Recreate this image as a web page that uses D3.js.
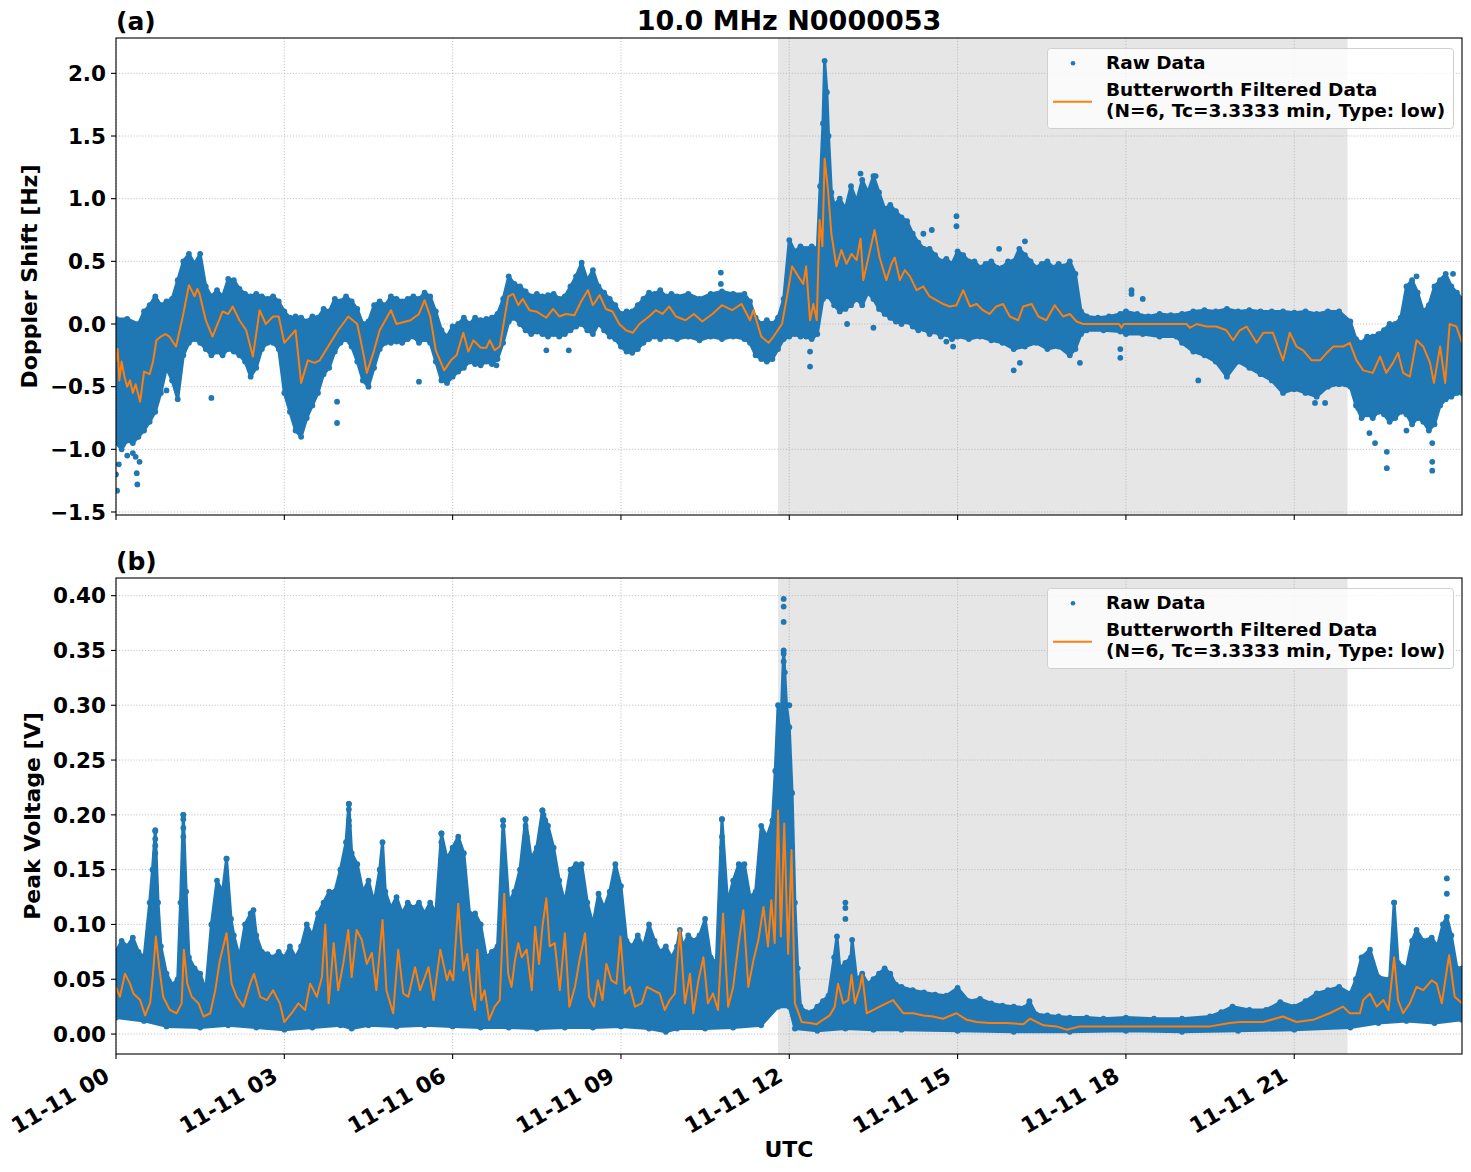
<!DOCTYPE html>
<html><head><meta charset="utf-8">
<script src="https://cdn.jsdelivr.net/npm/d3@7"></script>
<style>
body{margin:0;background:#fff}
text{font-family:"DejaVu Sans",sans-serif;font-weight:bold;fill:#000}
</style>
</head><body>
<svg id="c" width="1471" height="1172"></svg>
<script>
// ---------------- DATA (hours since 11-11 00:00 UTC, value) ----------------
const title = "10.0 MHz N0000053";
const shadeHours = [11.8, 21.95];
const xTickHours = [0, 3, 6, 9, 12, 15, 18, 21];
const dopplerTicks = [-1.5, -1.0, -0.5, 0.0, 0.5, 1.0, 1.5, 2.0];
const voltageTicks = [0.00, 0.05, 0.10, 0.15, 0.20, 0.25, 0.30, 0.35, 0.40];
const legendLabels = ["Raw Data", "Butterworth Filtered Data", "(N=6, Tc=3.3333 min, Type: low)"];

// Doppler raw data: upper / lower envelope of the dense point cloud
const dopplerRawUpper = [[0,0.04],[0.2,0.04],[0.4,0.0],[0.5,0.1],[0.6,0.15],[0.7,0.22],[0.8,0.15],[0.9,0.18],[1.0,0.2],[1.1,0.35],[1.2,0.5],[1.3,0.56],[1.4,0.48],[1.5,0.56],[1.6,0.3],[1.7,0.22],[1.8,0.27],[1.9,0.22],[2.0,0.36],[2.1,0.35],[2.2,0.28],[2.3,0.24],[2.4,0.22],[2.5,0.24],[2.6,0.22],[2.7,0.2],[2.8,0.22],[2.9,0.18],[3.0,0.1],[3.1,0.05],[3.2,0.06],[3.3,0.05],[3.4,0.02],[3.5,0.06],[3.6,0.05],[3.7,0.12],[3.8,0.1],[3.9,0.2],[4.0,0.18],[4.1,0.22],[4.2,0.18],[4.3,0.12],[4.4,0.0],[4.5,0.02],[4.6,0.15],[4.7,0.18],[4.8,0.15],[4.9,0.22],[5.0,0.2],[5.1,0.18],[5.2,0.2],[5.3,0.22],[5.4,0.2],[5.5,0.25],[5.6,0.22],[5.7,0.1],[5.8,-0.05],[5.9,-0.1],[6.0,-0.02],[6.1,0.0],[6.2,0.05],[6.3,0.0],[6.4,0.05],[6.5,0.03],[6.6,0.04],[6.7,0.05],[6.8,0.08],[6.9,0.2],[7.0,0.38],[7.1,0.32],[7.2,0.3],[7.3,0.26],[7.4,0.22],[7.5,0.24],[7.6,0.22],[7.7,0.23],[7.8,0.24],[7.9,0.2],[8.0,0.22],[8.1,0.3],[8.2,0.38],[8.3,0.49],[8.4,0.35],[8.5,0.43],[8.6,0.3],[8.7,0.25],[8.8,0.2],[8.9,0.15],[9.0,0.08],[9.1,0.1],[9.2,0.1],[9.3,0.15],[9.4,0.2],[9.5,0.25],[9.6,0.24],[9.7,0.27],[9.8,0.22],[9.9,0.24],[10.0,0.22],[10.2,0.24],[10.4,0.2],[10.6,0.24],[10.8,0.26],[11.0,0.24],[11.2,0.24],[11.3,0.18],[11.4,0.05],[11.5,0.0],[11.6,0.03],[11.7,0.0],[11.8,0.05],[11.9,0.2],[12.0,0.67],[12.1,0.58],[12.2,0.62],[12.3,0.6],[12.4,0.62],[12.5,0.6],[12.55,1.1],[12.6,1.6],[12.63,2.1],[12.67,1.85],[12.7,1.5],[12.75,1.05],[12.8,0.95],[12.9,1.0],[13.0,0.92],[13.1,1.1],[13.2,0.98],[13.3,1.15],[13.4,1.05],[13.5,1.18],[13.6,1.05],[13.7,0.92],[13.8,0.95],[13.9,0.9],[14.0,0.85],[14.1,0.82],[14.2,0.72],[14.3,0.65],[14.4,0.6],[14.5,0.6],[14.6,0.55],[14.7,0.5],[14.8,0.52],[14.9,0.48],[15.0,0.58],[15.1,0.55],[15.2,0.5],[15.3,0.5],[15.4,0.45],[15.5,0.48],[15.6,0.5],[15.7,0.45],[15.8,0.45],[15.9,0.5],[16.0,0.5],[16.1,0.6],[16.2,0.55],[16.3,0.5],[16.4,0.45],[16.5,0.48],[16.6,0.5],[16.7,0.45],[16.8,0.48],[16.9,0.46],[17.0,0.5],[17.1,0.4],[17.2,0.1],[17.3,0.06],[17.5,0.05],[17.7,0.06],[17.9,0.08],[18.0,0.1],[18.2,0.08],[18.4,0.06],[18.6,0.08],[18.8,0.07],[19.0,0.08],[19.2,0.1],[19.4,0.11],[19.6,0.1],[19.8,0.12],[20.0,0.1],[20.2,0.11],[20.4,0.1],[20.6,0.1],[20.8,0.1],[21.0,0.09],[21.2,0.1],[21.4,0.08],[21.6,0.1],[21.8,0.1],[22.0,0.02],[22.1,-0.12],[22.2,-0.15],[22.3,-0.1],[22.4,-0.1],[22.5,-0.08],[22.6,-0.05],[22.7,0.0],[22.8,0.0],[22.9,0.05],[23.0,0.3],[23.1,0.35],[23.2,0.25],[23.3,0.1],[23.4,0.15],[23.5,0.3],[23.6,0.35],[23.7,0.4],[23.8,0.3],[23.9,0.25],[23.99,0.2]];
const dopplerRawLower = [[0,-0.95],[0.1,-1.0],[0.2,-0.93],[0.3,-0.95],[0.4,-0.9],[0.5,-0.85],[0.6,-0.78],[0.7,-0.7],[0.8,-0.55],[0.9,-0.35],[1.0,-0.45],[1.1,-0.6],[1.2,-0.25],[1.3,-0.15],[1.4,-0.12],[1.5,-0.15],[1.6,-0.2],[1.7,-0.25],[1.8,-0.22],[1.9,-0.25],[2.0,-0.2],[2.1,-0.22],[2.2,-0.25],[2.3,-0.3],[2.4,-0.42],[2.5,-0.35],[2.6,-0.2],[2.7,-0.15],[2.8,-0.15],[2.9,-0.2],[3.0,-0.55],[3.1,-0.7],[3.2,-0.85],[3.3,-0.9],[3.4,-0.75],[3.5,-0.65],[3.6,-0.55],[3.7,-0.4],[3.8,-0.35],[3.9,-0.22],[4.0,-0.15],[4.1,-0.12],[4.2,-0.18],[4.3,-0.3],[4.4,-0.45],[4.5,-0.5],[4.6,-0.35],[4.7,-0.2],[4.8,-0.15],[4.9,-0.15],[5.0,-0.14],[5.1,-0.15],[5.2,-0.12],[5.3,-0.1],[5.4,-0.15],[5.5,-0.12],[5.6,-0.15],[5.7,-0.3],[5.8,-0.45],[5.9,-0.47],[6.0,-0.42],[6.1,-0.38],[6.2,-0.35],[6.3,-0.3],[6.4,-0.32],[6.5,-0.33],[6.6,-0.3],[6.7,-0.32],[6.8,-0.28],[6.9,-0.15],[7.0,0.02],[7.1,0.05],[7.2,0.0],[7.3,-0.05],[7.4,-0.08],[7.5,-0.06],[7.6,-0.08],[7.7,-0.1],[7.8,-0.08],[7.9,-0.1],[8.0,-0.08],[8.1,-0.05],[8.2,-0.02],[8.3,0.0],[8.4,-0.05],[8.5,-0.08],[8.6,0.0],[8.7,-0.05],[8.8,-0.1],[8.9,-0.12],[9.0,-0.18],[9.1,-0.22],[9.2,-0.23],[9.3,-0.2],[9.4,-0.15],[9.5,-0.12],[9.6,-0.1],[9.7,-0.12],[9.8,-0.1],[10.0,-0.12],[10.2,-0.1],[10.4,-0.13],[10.6,-0.1],[10.8,-0.12],[11.0,-0.1],[11.2,-0.12],[11.3,-0.15],[11.4,-0.25],[11.5,-0.28],[11.6,-0.3],[11.7,-0.28],[11.8,-0.2],[11.9,-0.12],[12.0,-0.1],[12.1,-0.08],[12.2,-0.1],[12.3,-0.1],[12.4,-0.12],[12.5,-0.08],[12.6,0.2],[12.7,0.22],[12.8,0.15],[12.9,0.1],[13.0,0.12],[13.1,0.15],[13.2,0.2],[13.3,0.15],[13.4,0.25],[13.5,0.2],[13.6,0.12],[13.7,0.08],[13.8,0.05],[13.9,0.02],[14.0,0.0],[14.1,0.02],[14.2,-0.02],[14.3,-0.05],[14.4,-0.04],[14.5,-0.08],[14.6,-0.06],[14.7,-0.1],[14.8,-0.08],[14.9,-0.12],[15.0,-0.1],[15.2,-0.12],[15.4,-0.1],[15.6,-0.13],[15.8,-0.15],[16.0,-0.2],[16.2,-0.18],[16.4,-0.15],[16.6,-0.2],[16.8,-0.18],[17.0,-0.25],[17.1,-0.2],[17.2,-0.08],[17.3,-0.05],[17.6,-0.05],[17.9,-0.06],[18.0,-0.08],[18.3,-0.08],[18.6,-0.1],[18.9,-0.1],[19.0,-0.15],[19.2,-0.22],[19.4,-0.25],[19.6,-0.3],[19.8,-0.42],[20.0,-0.3],[20.2,-0.35],[20.4,-0.4],[20.6,-0.45],[20.8,-0.55],[21.0,-0.52],[21.2,-0.55],[21.4,-0.58],[21.6,-0.5],[21.8,-0.48],[22.0,-0.5],[22.1,-0.65],[22.2,-0.75],[22.3,-0.72],[22.4,-0.75],[22.5,-0.7],[22.6,-0.72],[22.7,-0.78],[22.8,-0.75],[22.9,-0.7],[23.0,-0.72],[23.1,-0.8],[23.2,-0.75],[23.3,-0.78],[23.4,-0.85],[23.5,-0.8],[23.6,-0.65],[23.7,-0.6],[23.8,-0.58],[23.9,-0.55],[23.99,-0.55]];
const dopplerRawOutliers = [[0.0,-1.2],[0.02,-1.33],[0.05,-1.12],[0.2,-1.05],[0.3,-1.03],[0.35,-1.06],[0.37,-1.19],[0.38,-1.28],[0.42,-1.1],[0.9,-0.53],[1.7,-0.59],[3.94,-0.62],[3.94,-0.79],[5.4,-0.46],[6.78,-0.33],[7.67,-0.21],[8.07,-0.21],[10.78,0.41],[10.78,0.32],[12.37,-0.22],[12.37,-0.34],[13.03,0.0],[13.5,-0.03],[13.27,1.2],[13.54,1.18],[14.98,0.86],[14.98,0.78],[14.39,0.72],[14.54,0.75],[15.74,0.6],[16.2,0.66],[16.0,-0.37],[16.11,-0.31],[17.18,-0.31],[17.9,-0.27],[17.9,-0.2],[18.1,0.24],[18.1,0.27],[18.3,0.2],[14.92,-0.18],[14.8,-0.14],[19.29,-0.45],[21.37,-0.63],[21.55,-0.63],[22.14,-0.67],[22.34,-0.87],[22.44,-0.95],[22.65,-1.02],[22.65,-1.15],[23.0,-0.85],[23.18,0.38],[23.46,-0.95],[23.46,-1.1],[23.46,-1.17],[23.83,0.4]];
const dopplerFiltered = [[0,-0.3],[0.03,-0.2],[0.06,-0.45],[0.1,-0.3],[0.15,-0.42],[0.2,-0.5],[0.25,-0.45],[0.3,-0.55],[0.35,-0.48],[0.43,-0.62],[0.5,-0.38],[0.6,-0.4],[0.66,-0.3],[0.72,-0.13],[0.8,-0.1],[0.88,-0.08],[0.95,-0.1],[1.07,-0.18],[1.19,0.06],[1.3,0.31],[1.4,0.22],[1.45,0.28],[1.49,0.24],[1.6,0.03],[1.72,-0.1],[1.9,0.1],[2.0,0.08],[2.08,0.14],[2.2,0.03],[2.32,-0.05],[2.44,-0.26],[2.56,0.11],[2.67,0.0],[2.8,0.06],[2.9,0.06],[3.0,-0.15],[3.2,-0.05],[3.3,-0.47],[3.42,-0.29],[3.54,-0.31],[3.63,-0.29],[3.78,-0.18],[3.96,-0.05],[4.14,0.06],[4.3,0.0],[4.42,-0.26],[4.47,-0.39],[4.6,-0.21],[4.7,-0.05],[4.9,0.11],[5.0,0.0],[5.25,0.03],[5.4,0.08],[5.5,0.19],[5.6,0.06],[5.7,-0.21],[5.85,-0.37],[5.97,-0.29],[6.07,-0.25],[6.19,-0.07],[6.28,-0.22],[6.37,-0.13],[6.5,-0.19],[6.6,-0.19],[6.66,-0.13],[6.75,-0.21],[6.84,-0.18],[6.99,0.22],[7.08,0.24],[7.17,0.15],[7.25,0.2],[7.37,0.11],[7.49,0.1],[7.67,0.05],[7.79,0.12],[7.9,0.06],[8.02,0.08],[8.17,0.07],[8.29,0.18],[8.41,0.27],[8.5,0.15],[8.62,0.23],[8.73,0.12],[8.85,0.1],[8.97,0.0],[9.09,-0.05],[9.21,-0.07],[9.33,0.0],[9.5,0.06],[9.62,0.11],[9.74,0.08],[9.86,0.14],[9.98,0.06],[10.15,0.03],[10.3,0.08],[10.45,0.02],[10.63,0.08],[10.8,0.15],[10.98,0.11],[11.15,0.16],[11.3,0.03],[11.36,0.11],[11.5,-0.1],[11.63,-0.15],[11.72,-0.1],[11.87,0.0],[11.96,0.22],[12.05,0.46],[12.16,0.38],[12.25,0.32],[12.3,0.46],[12.37,0.03],[12.43,0.16],[12.49,0.03],[12.54,0.83],[12.59,0.62],[12.63,1.32],[12.69,1.07],[12.75,0.72],[12.84,0.46],[12.93,0.59],[13.02,0.48],[13.11,0.56],[13.2,0.51],[13.27,0.68],[13.32,0.35],[13.41,0.53],[13.52,0.75],[13.61,0.53],[13.73,0.35],[13.82,0.48],[13.88,0.53],[13.97,0.35],[14.06,0.43],[14.15,0.38],[14.27,0.27],[14.39,0.3],[14.5,0.22],[14.62,0.19],[14.74,0.16],[14.86,0.14],[14.98,0.15],[15.1,0.27],[15.22,0.14],[15.34,0.16],[15.45,0.11],[15.57,0.08],[15.69,0.14],[15.81,0.16],[15.93,0.06],[16.08,0.03],[16.17,0.14],[16.32,0.16],[16.44,0.06],[16.58,0.03],[16.73,0.15],[16.88,0.06],[17.0,0.08],[17.12,0.02],[17.24,0.0],[17.6,0.0],[17.88,0.0],[17.92,-0.03],[17.96,0.0],[18.5,0.0],[19.08,0.0],[19.14,-0.03],[19.26,0.0],[19.44,-0.02],[19.61,-0.02],[19.79,-0.05],[19.91,-0.13],[20.03,-0.05],[20.15,-0.02],[20.33,-0.15],[20.45,-0.07],[20.62,-0.07],[20.8,-0.29],[20.92,-0.07],[21.04,-0.18],[21.16,-0.21],[21.31,-0.29],[21.46,-0.29],[21.58,-0.23],[21.7,-0.18],[21.87,-0.18],[21.99,-0.15],[22.11,-0.29],[22.23,-0.37],[22.4,-0.39],[22.53,-0.26],[22.64,-0.39],[22.76,-0.31],[22.85,-0.23],[22.94,-0.39],[23.06,-0.42],[23.18,-0.13],[23.3,-0.18],[23.42,-0.31],[23.49,-0.47],[23.6,-0.18],[23.69,-0.47],[23.77,0.0],[23.89,-0.02],[23.99,-0.15]];

// Peak voltage
const voltageRawUpper = [[0,0.075],[0.1,0.085],[0.2,0.08],[0.3,0.088],[0.4,0.075],[0.5,0.07],[0.6,0.12],[0.65,0.15],[0.7,0.185],[0.75,0.12],[0.8,0.08],[0.9,0.055],[1.0,0.045],[1.1,0.05],[1.15,0.12],[1.2,0.2],[1.25,0.13],[1.3,0.07],[1.4,0.06],[1.5,0.055],[1.6,0.04],[1.7,0.1],[1.8,0.14],[1.9,0.13],[1.97,0.16],[2.05,0.105],[2.1,0.09],[2.2,0.07],[2.3,0.1],[2.4,0.11],[2.45,0.113],[2.5,0.09],[2.6,0.075],[2.7,0.073],[2.8,0.07],[2.9,0.075],[3.0,0.07],[3.1,0.08],[3.2,0.07],[3.3,0.08],[3.4,0.1],[3.5,0.09],[3.6,0.11],[3.7,0.12],[3.8,0.13],[3.9,0.13],[4.0,0.15],[4.1,0.175],[4.15,0.21],[4.2,0.165],[4.3,0.155],[4.4,0.13],[4.5,0.14],[4.6,0.12],[4.7,0.15],[4.75,0.175],[4.8,0.13],[4.9,0.115],[5.0,0.125],[5.1,0.11],[5.2,0.12],[5.3,0.115],[5.4,0.12],[5.5,0.11],[5.6,0.12],[5.7,0.11],[5.8,0.183],[5.9,0.16],[6.0,0.17],[6.1,0.18],[6.2,0.165],[6.3,0.11],[6.4,0.11],[6.5,0.1],[6.6,0.07],[6.7,0.075],[6.8,0.08],[6.9,0.195],[7.0,0.12],[7.1,0.13],[7.2,0.15],[7.3,0.196],[7.4,0.16],[7.5,0.17],[7.6,0.204],[7.7,0.19],[7.8,0.17],[7.9,0.14],[8.0,0.12],[8.1,0.15],[8.2,0.155],[8.3,0.155],[8.4,0.12],[8.5,0.1],[8.6,0.128],[8.7,0.115],[8.8,0.13],[8.9,0.155],[9.0,0.135],[9.1,0.085],[9.2,0.08],[9.3,0.09],[9.4,0.08],[9.5,0.1],[9.6,0.085],[9.7,0.075],[9.8,0.08],[9.9,0.07],[10.0,0.08],[10.05,0.095],[10.1,0.08],[10.2,0.09],[10.3,0.085],[10.4,0.09],[10.5,0.105],[10.6,0.07],[10.7,0.065],[10.8,0.196],[10.9,0.12],[11.0,0.14],[11.1,0.155],[11.2,0.155],[11.3,0.125],[11.4,0.13],[11.5,0.19],[11.6,0.18],[11.7,0.195],[11.75,0.24],[11.8,0.3],[11.85,0.28],[11.9,0.35],[11.95,0.3],[12.0,0.28],[12.05,0.22],[12.1,0.12],[12.15,0.06],[12.2,0.025],[12.3,0.02],[12.4,0.02],[12.5,0.025],[12.6,0.03],[12.7,0.035],[12.8,0.07],[12.85,0.089],[12.9,0.06],[13.0,0.065],[13.1,0.07],[13.12,0.086],[13.2,0.05],[13.3,0.055],[13.4,0.046],[13.5,0.05],[13.6,0.055],[13.7,0.06],[13.8,0.055],[13.9,0.045],[14.0,0.043],[14.2,0.04],[14.4,0.038],[14.6,0.036],[14.8,0.035],[15.0,0.042],[15.2,0.03],[15.4,0.032],[15.6,0.028],[15.8,0.026],[16.0,0.025],[16.2,0.024],[16.28,0.03],[16.4,0.018],[16.6,0.017],[16.8,0.016],[17.0,0.015],[17.3,0.015],[17.6,0.014],[18.0,0.015],[18.5,0.014],[19.0,0.014],[19.5,0.016],[19.7,0.02],[19.9,0.025],[20.2,0.022],[20.5,0.022],[20.75,0.029],[21.0,0.025],[21.2,0.03],[21.4,0.037],[21.6,0.04],[21.8,0.043],[22.0,0.037],[22.1,0.05],[22.2,0.07],[22.35,0.077],[22.5,0.052],[22.7,0.05],[22.78,0.12],[22.85,0.065],[23.0,0.06],[23.1,0.085],[23.18,0.095],[23.3,0.085],[23.45,0.088],[23.55,0.08],[23.65,0.1],[23.72,0.107],[23.8,0.09],[23.9,0.06],[23.99,0.06]];
const voltageRawLower = [[0,0.015],[0.5,0.012],[0.9,0.007],[1.5,0.006],[2.0,0.008],[2.5,0.006],[3.0,0.004],[3.5,0.006],[4.0,0.008],[4.2,0.005],[4.5,0.008],[5.0,0.007],[5.5,0.008],[6.0,0.007],[6.5,0.006],[7.0,0.006],[7.5,0.005],[8.0,0.006],[8.5,0.006],[9.0,0.007],[9.5,0.005],[9.8,0.002],[10.0,0.005],[10.5,0.005],[11.0,0.006],[11.5,0.008],[11.8,0.025],[12.0,0.025],[12.1,0.005],[12.5,0.003],[13.0,0.005],[13.5,0.004],[14.0,0.004],[15.0,0.003],[16.0,0.002],[17.0,0.002],[18.0,0.003],[19.0,0.002],[20.0,0.003],[21.0,0.004],[22.0,0.006],[22.5,0.01],[23.0,0.012],[23.5,0.01],[23.99,0.013]];
const voltageRawOutliers = [[0.7,0.186],[0.7,0.178],[0.7,0.172],[0.7,0.165],[1.2,0.2],[1.2,0.196],[1.2,0.188],[1.2,0.18],[1.97,0.16],[4.15,0.21],[4.15,0.205],[4.15,0.195],[4.15,0.19],[4.15,0.18],[5.8,0.183],[5.8,0.175],[5.8,0.16],[6.9,0.195],[6.9,0.19],[7.3,0.196],[7.3,0.19],[7.32,0.18],[7.6,0.204],[7.62,0.2],[7.65,0.195],[10.8,0.196],[10.8,0.18],[10.8,0.17],[10.8,0.16],[11.9,0.397],[11.9,0.39],[11.9,0.376],[11.9,0.347],[11.9,0.34],[11.92,0.33],[12.0,0.3],[13.0,0.12],[13.0,0.115],[13.0,0.105],[23.72,0.142],[23.72,0.128],[22.78,0.12]];
const voltageFiltered = [[0,0.043],[0.07,0.034],[0.16,0.055],[0.25,0.046],[0.31,0.037],[0.43,0.031],[0.52,0.017],[0.61,0.029],[0.66,0.055],[0.71,0.089],[0.77,0.061],[0.84,0.034],[0.96,0.022],[1.08,0.019],[1.17,0.028],[1.21,0.077],[1.27,0.046],[1.35,0.034],[1.47,0.028],[1.56,0.016],[1.68,0.019],[1.77,0.04],[1.85,0.067],[1.97,0.092],[2.06,0.046],[2.15,0.034],[2.27,0.025],[2.39,0.046],[2.46,0.055],[2.57,0.034],[2.69,0.031],[2.8,0.04],[2.92,0.028],[3.0,0.011],[3.13,0.019],[3.25,0.028],[3.37,0.022],[3.46,0.046],[3.58,0.034],[3.67,0.052],[3.73,0.1],[3.79,0.028],[3.88,0.083],[3.96,0.04],[4.05,0.064],[4.14,0.095],[4.2,0.052],[4.29,0.095],[4.38,0.086],[4.47,0.064],[4.56,0.074],[4.64,0.04],[4.75,0.104],[4.82,0.04],[4.94,0.019],[5.03,0.077],[5.12,0.037],[5.21,0.034],[5.33,0.061],[5.42,0.04],[5.57,0.061],[5.66,0.031],[5.78,0.077],[5.9,0.049],[5.95,0.058],[6.01,0.049],[6.1,0.119],[6.19,0.058],[6.26,0.073],[6.34,0.037],[6.4,0.022],[6.44,0.077],[6.51,0.031],[6.57,0.04],[6.65,0.013],[6.75,0.025],[6.84,0.031],[6.92,0.128],[6.99,0.055],[7.05,0.043],[7.11,0.067],[7.17,0.083],[7.23,0.07],[7.32,0.077],[7.41,0.04],[7.47,0.098],[7.54,0.064],[7.6,0.098],[7.67,0.124],[7.73,0.08],[7.82,0.083],[7.91,0.04],[8.0,0.092],[8.08,0.025],[8.18,0.043],[8.27,0.07],[8.36,0.092],[8.43,0.034],[8.52,0.025],[8.59,0.049],[8.67,0.031],[8.74,0.064],[8.83,0.049],[8.92,0.046],[8.99,0.089],[9.07,0.037],[9.16,0.043],[9.25,0.025],[9.37,0.028],[9.46,0.043],[9.57,0.04],[9.69,0.037],[9.78,0.022],[9.87,0.031],[9.96,0.037],[10.05,0.095],[10.14,0.028],[10.23,0.055],[10.29,0.019],[10.38,0.049],[10.47,0.07],[10.55,0.028],[10.64,0.037],[10.73,0.022],[10.82,0.11],[10.91,0.025],[11.0,0.043],[11.09,0.08],[11.18,0.113],[11.27,0.043],[11.36,0.067],[11.45,0.086],[11.54,0.116],[11.62,0.08],[11.68,0.122],[11.74,0.083],[11.8,0.204],[11.85,0.089],[11.91,0.192],[11.98,0.073],[12.04,0.168],[12.1,0.028],[12.16,0.02],[12.22,0.011],[12.37,0.01],[12.49,0.009],[12.6,0.013],[12.72,0.017],[12.81,0.025],[12.87,0.046],[12.96,0.028],[13.05,0.031],[13.11,0.054],[13.17,0.028],[13.26,0.043],[13.3,0.054],[13.38,0.019],[13.5,0.022],[13.61,0.025],[13.73,0.028],[13.85,0.031],[13.94,0.025],[14.03,0.019],[14.21,0.019],[14.39,0.017],[14.56,0.016],[14.74,0.014],[14.98,0.019],[15.16,0.013],[15.34,0.011],[15.57,0.01],[15.87,0.01],[16.17,0.009],[16.29,0.014],[16.53,0.008],[16.76,0.007],[16.94,0.004],[17.18,0.007],[17.5,0.007],[18.0,0.007],[18.5,0.007],[19.0,0.007],[19.5,0.007],[19.85,0.01],[20.03,0.011],[20.45,0.011],[20.8,0.016],[21.04,0.011],[21.34,0.013],[21.63,0.019],[21.87,0.025],[21.99,0.019],[22.17,0.019],[22.23,0.031],[22.35,0.037],[22.47,0.025],[22.59,0.031],[22.68,0.022],[22.78,0.07],[22.85,0.031],[22.94,0.019],[23.06,0.028],[23.18,0.043],[23.3,0.04],[23.45,0.049],[23.54,0.046],[23.63,0.028],[23.76,0.072],[23.86,0.034],[23.99,0.028]];

// ---------------- DRAWING ----------------
const BLUE = "#1f77b4", ORANGE = "#ff7f0e";
const svg = d3.select("#c");
svg.append("rect").attr("width", 1471).attr("height", 1172).attr("fill", "#fff");
const day0 = Date.UTC(2024, 10, 11);
const toDate = h => new Date(day0 + h * 3600e3);
const L = 116, R = 1462;
const x = d3.scaleUtc().domain([toDate(0), toDate(23.99)]).range([L, R]);
const fmtTick = d3.utcFormat("%m-%d %H");
const fmtNum = (v, d) => (v < 0 ? "\u2212" : "") + Math.abs(v).toFixed(d);

const panels = [
  {top: 38, bottom: 515, dom: [-1.524, 2.282], ticks: dopplerTicks, dec: 1, up: dopplerRawUpper, lo: dopplerRawLower,
   out: dopplerRawOutliers, filt: dopplerFiltered, ylabel: "Doppler Shift [Hz]", ylabX: 37, tag: "(a)", xlabels: false},
  {top: 578, bottom: 1054, dom: [-0.0182, 0.4161], ticks: voltageTicks, dec: 2, up: voltageRawUpper, lo: voltageRawLower,
   out: voltageRawOutliers, filt: voltageFiltered, ylabel: "Peak Voltage [V]", ylabX: 40, tag: "(b)", xlabels: true}
];

panels.forEach((p, i) => {
  const y = d3.scaleLinear().domain(p.dom).range([p.bottom, p.top]);
  const g = svg.append("g");
  const cid = "clip" + i;
  svg.append("clipPath").attr("id", cid).append("rect")
    .attr("x", L).attr("y", p.top).attr("width", R - L).attr("height", p.bottom - p.top);

  // shading
  g.append("rect").attr("x", x(toDate(shadeHours[0]))).attr("y", p.top)
    .attr("width", x(toDate(shadeHours[1])) - x(toDate(shadeHours[0])))
    .attr("height", p.bottom - p.top).attr("fill", "#808080").attr("fill-opacity", 0.2);

  // grid
  const grid = g.append("g").attr("stroke", "#b0b0b0").attr("stroke-width", 0.8).attr("stroke-dasharray", "1.1,1.8");
  xTickHours.forEach(h => grid.append("line").attr("x1", x(toDate(h))).attr("x2", x(toDate(h)))
    .attr("y1", p.top).attr("y2", p.bottom));
  p.ticks.forEach(t => grid.append("line").attr("x1", L).attr("x2", R).attr("y1", y(t)).attr("y2", y(t)));

  // raw data cloud
  const dg = g.append("g").attr("clip-path", `url(#${cid})`);
  const line = d3.line().x(d => x(toDate(d[0]))).y(d => y(d[1]));
  dg.append("path").attr("d", line(p.up.concat(p.lo.slice().reverse())) + "Z").attr("fill", BLUE)
    .attr("stroke", BLUE).attr("stroke-width", 3).attr("stroke-linejoin", "round");
  dg.selectAll("circle.raw").data(p.up.concat(p.lo, p.out)).join("circle")
    .attr("cx", d => x(toDate(d[0]))).attr("cy", d => y(d[1])).attr("r", 2.9).attr("fill", BLUE);

  // filtered line
  dg.append("path").attr("d", line(p.filt)).attr("fill", "none").attr("stroke", ORANGE)
    .attr("stroke-width", 2).attr("stroke-linejoin", "round");

  // spines
  g.append("rect").attr("x", L).attr("y", p.top).attr("width", R - L).attr("height", p.bottom - p.top)
    .attr("fill", "none").attr("stroke", "#000").attr("stroke-width", 1.1);

  // y ticks
  p.ticks.forEach(t => {
    g.append("line").attr("x1", L - 5).attr("x2", L).attr("y1", y(t)).attr("y2", y(t)).attr("stroke", "#000").attr("stroke-width", 1.1);
    g.append("text").attr("x", L - 10).attr("y", y(t)).attr("dy", "0.36em").attr("text-anchor", "end")
      .attr("font-size", 21.5).text(fmtNum(t, p.dec));
  });
  // x ticks
  xTickHours.forEach(h => {
    g.append("line").attr("x1", x(toDate(h))).attr("x2", x(toDate(h))).attr("y1", p.bottom).attr("y2", p.bottom + 5)
      .attr("stroke", "#000").attr("stroke-width", 1.1);
    if (p.xlabels) {
      const tx = x(toDate(h)) - 5, ty = p.bottom + 26;
      g.append("text").attr("x", tx).attr("y", ty).attr("text-anchor", "end").attr("font-size", 22)
        .attr("transform", `rotate(-30,${tx},${ty})`).text(fmtTick(toDate(h)));
    }
  });

  // y label
  const cy = (p.top + p.bottom) / 2;
  g.append("text").attr("x", p.ylabX).attr("y", cy).attr("text-anchor", "middle").attr("font-size", 22)
    .attr("transform", `rotate(-90,${p.ylabX},${cy})`).text(p.ylabel);
  // panel tag
  g.append("text").attr("x", L).attr("y", p.top - 8).attr("font-size", 25).text(p.tag);

  // legend
  const lg = g.append("g");
  const ly = p.top;
  lg.append("rect").attr("x", 1047.5).attr("y", ly + 10.5).attr("width", 406).attr("height", 80).attr("rx", 3)
    .attr("fill", "#fff").attr("fill-opacity", 0.8).attr("stroke", "#d0d0d0").attr("stroke-width", 1);
  lg.append("circle").attr("cx", 1073).attr("cy", ly + 25.3).attr("r", 2.3).attr("fill", BLUE);
  lg.append("line").attr("x1", 1053).attr("x2", 1092).attr("y1", ly + 63.7).attr("y2", ly + 63.7)
    .attr("stroke", ORANGE).attr("stroke-width", 2);
  lg.append("text").attr("x", 1106).attr("y", ly + 31.3).attr("font-size", 18.5).text(legendLabels[0]);
  lg.append("text").attr("x", 1106).attr("y", ly + 57.7).attr("font-size", 18.5).text(legendLabels[1]);
  lg.append("text").attr("x", 1106).attr("y", ly + 78.7).attr("font-size", 18.5).text(legendLabels[2]);
});

svg.append("text").attr("x", (L + R) / 2).attr("y", 30).attr("text-anchor", "middle").attr("font-size", 27).text(title);
svg.append("text").attr("x", (L + R) / 2).attr("y", 1157).attr("text-anchor", "middle").attr("font-size", 22).text("UTC");
</script>
</body></html>
